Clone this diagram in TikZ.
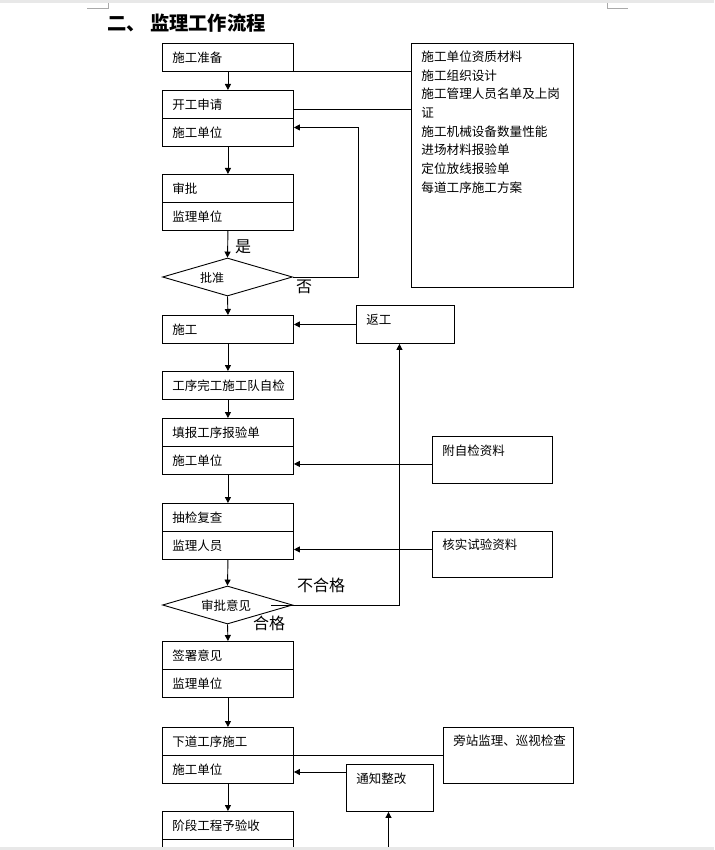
\documentclass[tikz,border=0pt]{standalone}
\usepackage{fontspec}
\setmainfont{Noto Sans CJK SC}
\usetikzlibrary{arrows.meta,shapes.geometric,calc}
\definecolor{pagegray}{RGB}{232,232,232}
\definecolor{markgray}{RGB}{170,170,170}
\begin{document}
\begin{tikzpicture}[x=1pt,y=-1pt, line width=0.9pt,
  cell/.style={draw, anchor=north west, minimum width=131pt, minimum height=28pt, inner xsep=10pt, inner ysep=0pt, text width=111pt, align=left, font=\fontsize{12.5}{14}\selectfont},
  sidebox/.style={draw, anchor=north west, inner sep=0pt},
  stxt/.style={anchor=west, inner sep=0pt, font=\fontsize{12.5}{14}\selectfont},
  dia/.style={draw, diamond, minimum width=130pt, minimum height=38pt, inner sep=0pt},
  lbl/.style={inner sep=0pt, font=\fontsize{16}{18}\selectfont},
  arr/.style={-{Triangle[length=6pt,width=6pt]}},
  ]
\useasboundingbox (0,0) rectangle (714,850);
\fill[white] (0,0) rectangle (714,850);
\begin{scope}
\clip (0,3) rectangle (714,847);
% title
\node[anchor=west, inner sep=0pt, font=\fontsize{19.3}{21}\selectfont\bfseries] (title) at (107,23) {二、\hspace{4pt}监理工作流程};

% left column
\node[cell] (zb) at (162,43) {施工准备};
\node[cell] (kg1) at (162,90) {开工申请};
\node[cell] (kg2) at (162,118) {施工单位};
\node[cell] (sp1) at (162,174) {审批};
\node[cell] (sp2) at (162,202) {监理单位};
\node[dia] (d1) at (227.5,277) {};
\node[inner sep=0pt, font=\fontsize{12}{14}\selectfont] (d1t) at (212,278) {批准};
\node[cell] (sg) at (162,315) {施工};
\node[cell] (zj) at (162,371) {工序完工施工队自检};
\node[cell] (tb1) at (162,418) {填报工序报验单};
\node[cell] (tb2) at (162,446) {施工单位};
\node[cell] (cj1) at (162,503) {抽检复查};
\node[cell] (cj2) at (162,531) {监理人员};
\node[dia] (d2) at (227.5,605) {};
\node[inner sep=0pt, font=\fontsize{12.5}{14}\selectfont] (d2t) at (226,606) {审批意见};
\node[cell] (qs1) at (162,641) {签署意见};
\node[cell] (qs2) at (162,669) {监理单位};
\node[cell] (xd1) at (162,727) {下道工序施工};
\node[cell] (xd2) at (162,755) {施工单位};
\node[cell] (jd1) at (162,811) {阶段工程予验收};
\node[cell] (jd2) at (162,839) {监理单位组织};

% right boxes
\node[sidebox, minimum width=162pt, minimum height=244pt] (big) at (410.5,43) {};
\foreach \t [count=\i] in {施工单位资质材料,施工组织设计,施工管理人员名单及上岗,证,施工机械设备数量性能,进场材料报验单,定位放线报验单,每道工序施工方案}
  \node[stxt, font=\fontsize{12.6}{14}\selectfont] (bl\i) at (421,{57+18.6*(\i-1)}) {\t};

\node[sidebox, minimum width=98pt, minimum height=38pt] (fg) at (356,305) {};
\node[stxt] (fgt) at (366,320) {返工};
\node[sidebox, minimum width=120pt, minimum height=47pt] (fz) at (432,436) {};
\node[stxt] (fzt) at (442,451) {附自检资料};
\node[sidebox, minimum width=120pt, minimum height=46pt] (hs) at (432,531) {};
\node[stxt] (hst) at (442,545) {核实试验资料};
\node[sidebox, minimum width=130pt, minimum height=56pt] (pz) at (443,727) {};
\node[stxt] (pzt) at (453,741) {旁站监理、巡视检查};
\node[sidebox, minimum width=87pt, minimum height=47pt] (tz) at (346,764) {};
\node[stxt] (tzt) at (356,779) {通知整改};
\coordinate (bot) at (388.5,850);

% labels
\node[lbl] (yes) at (243,247) {是};
\node[lbl] (no) at (304,287) {否};
\node[lbl] (bhg) at (321,585) {不合格};
\node[lbl] (hg) at (269,623) {合格};

% vertical arrows
\draw[arr] (zb.south) -- (kg1.north);
\draw[arr] (kg2.south) -- (sp1.north);
\draw[arr] (sp2.south) -- (d1.north);
\draw[arr] (d1.south) -- (sg.north);
\draw[arr] (sg.south) -- (zj.north);
\draw[arr] (zj.south) -- (tb1.north);
\draw[arr] (tb2.south) -- (cj1.north);
\draw[arr] (cj2.south) -- (d2.north);
\draw[arr] (d2.south) -- (qs1.north);
\draw[arr] (qs2.south) -- (xd1.north);
\draw[arr] (xd2.south) -- (jd1.north);

% connectors to big box
\draw (zb.south east) -- (zb.south east -| big.west);
\draw ([yshift=-19pt]kg1.north east) -- ([yshift=-19pt]kg1.north east -| big.west);

% feedback loop
\draw[arr] (d1.east) -- ++(65,0) |- ([yshift=5pt]kg2.east);
% rework
\draw[arr] (fg.west) -- (fg.west -| sg.east);
\draw[arr] ([xshift=-22pt]d2.east) -| ([xshift=-6pt]fg.south);
% side inputs
\draw[arr] ([yshift=-4pt]fz.west) -- ([yshift=-4pt]fz.west -| tb2.east);
\draw[arr] ([yshift=5pt]hs.west) -- ([yshift=5pt]hs.west -| cj2.east);
\draw (xd2.north east) -- (xd2.north east -| pz.west);
\draw[arr] ([yshift=-8pt]tz.north west) -- ([yshift=-8pt]tz.north west -| xd2.east);
\draw[arr] (bot) -- (bot |- tz.south);
\end{scope}

% page view bands and corner marks
\fill[pagegray] (0,0) rectangle (714,3);
\fill[pagegray] (0,847) rectangle (714,850);
\draw[markgray, line width=0.8pt] (87,8) -- (108,8) -- (108,3);
\draw[markgray, line width=0.8pt] (607,3) -- (607,8) -- (628,8);
\end{tikzpicture}
\end{document}
